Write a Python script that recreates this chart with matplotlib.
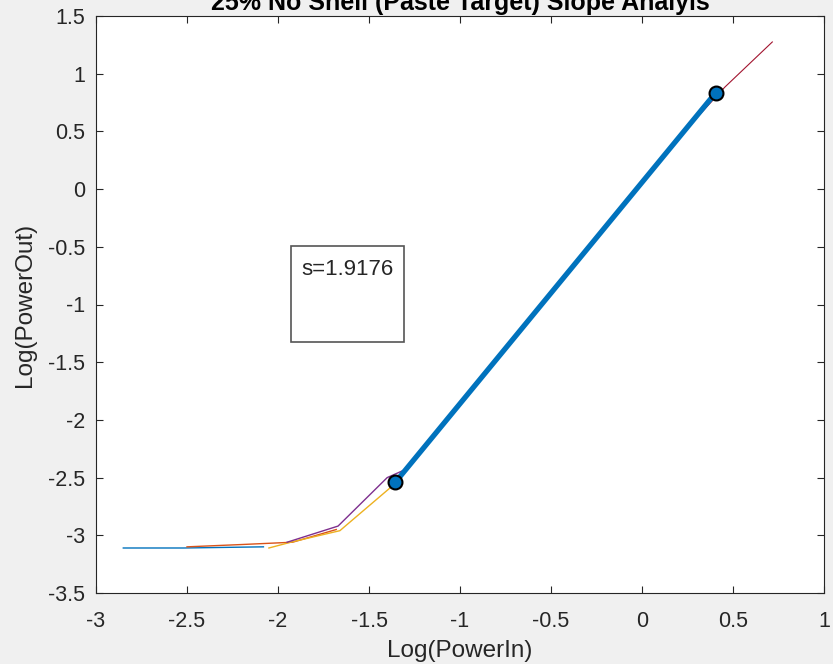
import numpy as np
import matplotlib
matplotlib.use("Agg")
import matplotlib.pyplot as plt
from matplotlib.patches import Rectangle

plt.rcParams['font.family'] = ['Liberation Sans', 'DejaVu Sans']

# Measured response curves (log10 of input vs output power)
run1_x = [-2.85, -2.52, -2.08]
run1_y = [-3.11, -3.11, -3.10]
run2_x = [-2.50, -2.20, -1.92, -1.68]
run2_y = [-3.10, -3.08, -3.06, -2.95]
run3_x = [-2.05, -1.93, -1.66, -1.37, -0.50, 0.39]
run3_y = [-3.11, -3.06, -2.96, -2.57, -0.91, 0.80]
run4_x = [-1.95, -1.67, -1.40, -1.30, -0.50, 0.38]
run4_y = [-3.06, -2.92, -2.50, -2.43, -0.90, 0.79]
run5_x = [-1.37, -0.50, 0.25, 0.456, 0.716]
run5_y = [-2.57, -0.91, 0.53, 0.885, 1.275]

# Linear fit segment and its slope
fit_x = [-1.355, 0.404]
slope = 1.9176
fit_y0 = -2.54
fit_y = [fit_y0, fit_y0 + slope * (fit_x[1] - fit_x[0])]

x_ticks = [-3, -2.5, -2, -1.5, -1, -0.5, 0, 0.5, 1]
y_ticks = [-3.5, -3, -2.5, -2, -1.5, -1, -0.5, 0, 0.5, 1, 1.5]

fig = plt.figure(figsize=(8.33, 6.64), dpi=100, facecolor='#f0f0f0')
ax = fig.add_axes([96/833, 71/664, 728/833, 577/664])
ax.set_facecolor('white')

ax.plot(run1_x, run1_y, color='#0072BD', lw=1.0)
ax.plot(run2_x, run2_y, color='#D95319', lw=1.0)
ax.plot(run3_x, run3_y, color='#EDB120', lw=1.0)
ax.plot(run4_x, run4_y, color='#7E2F8E', lw=1.0)
ax.plot(run5_x, run5_y, color='#A2142F', lw=0.8)

ax.plot(fit_x, fit_y, color='#0072BD', lw=3.8, solid_capstyle='butt')
ax.plot(fit_x, fit_y, 'o', color='#0072BD', markersize=10,
        markeredgecolor='black', markeredgewidth=1.5)

ax.set_xlim(-3, 1)
ax.set_ylim(-3.5, 1.5)
ax.set_xticks(x_ticks)
ax.set_xticklabels([f'{t:g}' for t in x_ticks])
ax.set_yticks(y_ticks)
ax.set_yticklabels([f'{t:g}' for t in y_ticks])

for s in ax.spines.values():
    s.set_color('#262626')
    s.set_linewidth(0.8)
ax.tick_params(direction='in', length=5, width=0.8, colors='#262626',
               labelsize=15.5, top=True, right=True, labelcolor='#262626')
ax.tick_params(axis='x', pad=13)
ax.tick_params(axis='y', pad=8)

ax.set_xlabel('Log(PowerIn)', fontsize=17.5, color='#262626')
ax.set_ylabel('Log(PowerOut)', fontsize=17.5, color='#262626')
ax.xaxis.set_label_coords(0.5, -0.081)
ax.yaxis.set_label_coords(-0.082, 0.5)
ax.set_title('25% No Shell (Paste Target) Slope Analyis', fontsize=18,
             fontweight='bold', color='black', pad=4.5)

# Annotation box with the fitted slope
fig.patches.append(Rectangle((291/833, 322/664), 113/833, 96/664,
                             transform=fig.transFigure, facecolor='white',
                             edgecolor='#555555', lw=1.2))
fig.text(301/833, 405/664, f's={slope}', fontsize=16, color='#262626',
         ha='left', va='top')

fig.savefig('out.png', dpi=100, facecolor=fig.get_facecolor())
